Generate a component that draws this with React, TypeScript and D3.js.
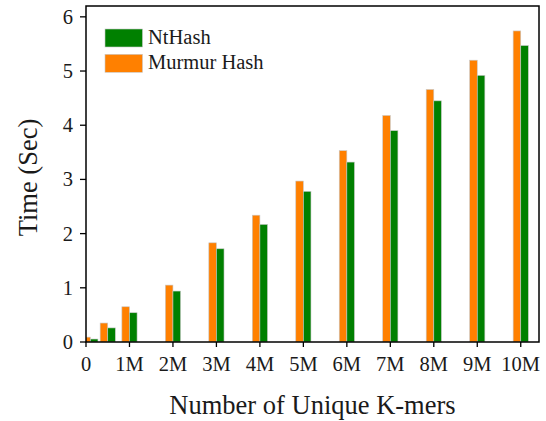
import React from "react";
import * as d3 from "d3";

const kmers = [0.1, 0.5, 1, 2, 3, 4, 5, 6, 7, 8, 9, 10];
const murmurHash = [0.09, 0.35, 0.65, 1.05, 1.83, 2.34, 2.97, 3.53, 4.18, 4.66, 5.2, 5.74];
const ntHash = [0.055, 0.26, 0.54, 0.94, 1.72, 2.17, 2.78, 3.32, 3.9, 4.45, 4.92, 5.47];
const xTicks = [0, 1, 2, 3, 4, 5, 6, 7, 8, 9, 10];
const xTickLabels = ["0", "1M", "2M", "3M", "4M", "5M", "6M", "7M", "8M", "9M", "10M"];
const yTicks = [0, 1, 2, 3, 4, 5, 6];
const seriesNames = ["NtHash", "Murmur Hash"];
const seriesColors = ["#008000", "#ff8000"];

const W = 546;
const H = 421;
const m = { left: 86, right: 539, top: 6, bottom: 342 };
const FONT = "'Liberation Serif', 'Times New Roman', serif";

export default function App() {
  const x = d3.scaleLinear().domain([0, 10.42]).range([m.left, m.right]);
  const y = d3.scaleLinear().domain([0, 6.2]).range([m.bottom, m.top]);
  const bw = 7.6;
  const textColor = "#1a1a1a";

  return (
    <svg
      width={W}
      height={H}
      style={{ position: "absolute", left: 0, top: 0, background: "#fff" }}
      fontFamily={FONT}
    >
      <defs>
        <clipPath id="plotClip">
          <rect x={m.left} y={m.top} width={m.right - m.left} height={m.bottom - m.top} />
        </clipPath>
      </defs>
      <rect x={0} y={0} width={W} height={H} fill="#fff" />
      <g clipPath="url(#plotClip)">
        {kmers.map((k, i) => (
          <g key={i}>
            <rect
              x={x(k) - bw}
              y={y(murmurHash[i])}
              width={bw}
              height={y(0) - y(murmurHash[i])}
              fill={seriesColors[1]}
              stroke="#c8c8c8"
              strokeWidth={0.6}
            />
            <rect
              x={x(k)}
              y={y(ntHash[i])}
              width={bw}
              height={y(0) - y(ntHash[i])}
              fill={seriesColors[0]}
              stroke="#c8c8c8"
              strokeWidth={0.6}
            />
          </g>
        ))}
      </g>
      <rect
        x={m.left}
        y={m.top}
        width={m.right - m.left}
        height={m.bottom - m.top}
        fill="none"
        stroke="#000"
        strokeWidth={1.5}
      />
      {yTicks.map((t) => (
        <g key={"y" + t}>
          <line x1={m.left - 6} x2={m.left} y1={y(t)} y2={y(t)} stroke="#000" strokeWidth={1.3} />
          <text
            x={m.left - 13}
            y={y(t)}
            textAnchor="end"
            dominantBaseline="central"
            fontSize={20.5}
            fill={textColor}
          >
            {t}
          </text>
        </g>
      ))}
      {xTicks.map((t, i) => (
        <g key={"x" + t}>
          <line x1={x(t)} x2={x(t)} y1={m.bottom} y2={m.bottom + 5} stroke="#000" strokeWidth={1.3} />
          <text x={x(t)} y={371} textAnchor="middle" fontSize={20.5} fill={textColor}>
            {xTickLabels[i]}
          </text>
        </g>
      ))}
      <text
        x={(m.left + m.right) / 2}
        y={414}
        textAnchor="middle"
        fontSize={26.5}
        fill={textColor}
      >
        Number of Unique K-mers
      </text>
      <text
        transform={`translate(37, ${177.5}) rotate(-90)`}
        textAnchor="middle"
        fontSize={26.5}
        fill={textColor}
      >
        Time (Sec)
      </text>
      {seriesNames.map((name, i) => (
        <g key={name}>
          <rect
            x={105}
            y={29 + i * 25.3}
            width={37.5}
            height={18}
            fill={seriesColors[i]}
            stroke="#c8c8c8"
            strokeWidth={0.6}
          />
          <text x={148} y={44 + i * 25.3} fontSize={20.5} fill={textColor}>
            {name}
          </text>
        </g>
      ))}
    </svg>
  );
}
